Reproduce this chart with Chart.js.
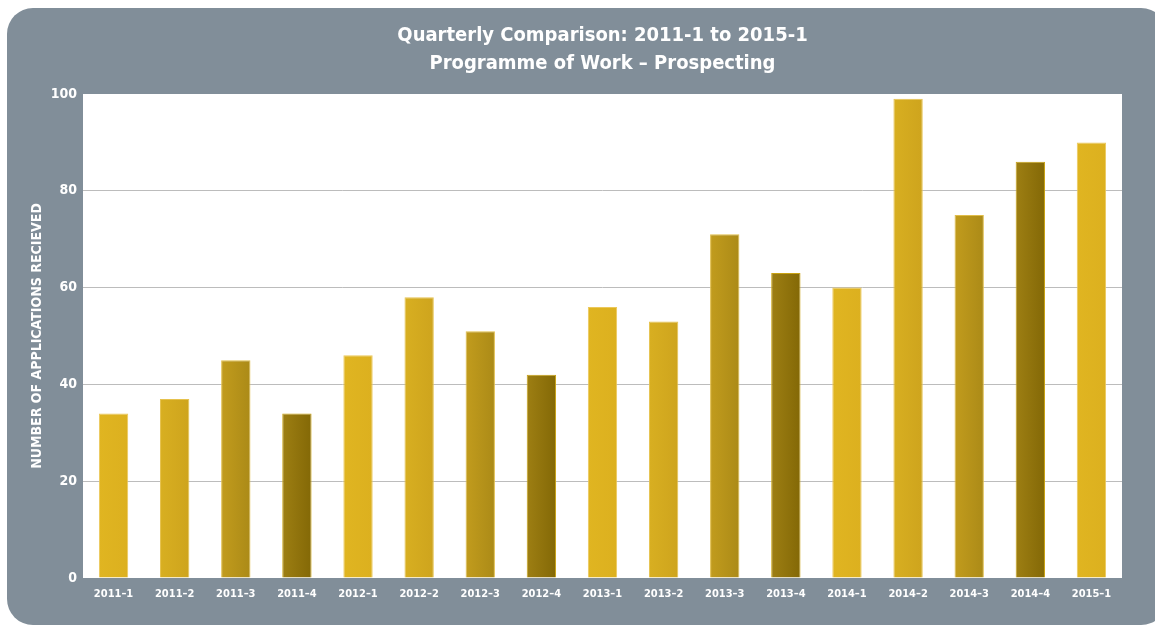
<!DOCTYPE html>
<html>
<head>
<meta charset="utf-8">
<script src="https://cdn.jsdelivr.net/npm/chart.js@4"></script>
<style>
  html, body { margin: 0; padding: 0; background: #fff; }
  #wrap { width: 1155px; height: 626px; }
</style>
</head>
<body>
<div id="wrap"><canvas id="chart" width="1155" height="626"></canvas></div>
<script>
// Data
const quarters = ['2011–1', '2011–2', '2011–3', '2011–4', '2012–1', '2012–2', '2012–3', '2012–4',
  '2013–1', '2013–2', '2013–3', '2013–4', '2014–1', '2014–2', '2014–3', '2014–4', '2015–1'];
const applications = [34, 37, 45, 34, 46, 58, 51, 42, 56, 53, 71, 63, 60, 99, 75, 86, 90];
const yTicks = [0, 20, 40, 60, 80, 100];

// Bar shading per quarter of the year: [left, right, border]
const quarterColors = [
  ['#e0b521', '#dcb01f', '#ecc85a'],
  ['#d8af21', '#cea41d', '#e6c24e'],
  ['#c29c1d', '#ab8a17', '#e0bd4a'],
  ['#9e7f13', '#836806', '#c9a213']
];

const FONT = "'Liberation Sans Narrow', 'DejaVu Sans Condensed', Arial, sans-serif";
const PANEL = '#818e99';

// Gray rounded panel and white plot area
const panelPlugin = {
  id: 'panel',
  beforeDraw(chart) {
    const { ctx, chartArea } = chart;
    ctx.save();
    ctx.fillStyle = PANEL;
    ctx.beginPath();
    ctx.roundRect(7, 8, 1160, 617, 26);
    ctx.fill();
    ctx.fillStyle = '#ffffff';
    ctx.fillRect(chartArea.left, chartArea.top, chartArea.right - chartArea.left, chartArea.bottom - chartArea.top);
    ctx.restore();
  }
};

function barFill(c) {
  const cols = quarterColors[c.dataIndex % 4];
  const chart = c.chart;
  if (!chart.chartArea || !chart.scales.x) return cols[0];
  const x = chart.scales.x.getPixelForValue(c.dataIndex);
  const g = chart.ctx.createLinearGradient(x - 15, 0, x + 15, 0);
  g.addColorStop(0, cols[0]);
  g.addColorStop(1, cols[1]);
  return g;
}

new Chart(document.getElementById('chart'), {
  type: 'bar',
  data: {
    labels: quarters,
    datasets: [{
      data: applications,
      backgroundColor: barFill,
      borderColor: (c) => quarterColors[c.dataIndex % 4][2],
      borderWidth: 1,
      categoryPercentage: 1,
      barPercentage: 0.48
    }]
  },
  options: {
    responsive: false,
    animation: false,
    layout: { padding: { top: 8, right: 33, bottom: 0, left: 0 } },
    plugins: {
      legend: { display: false },
      tooltip: { enabled: false },
      title: {
        display: true,
        fullSize: false,
        text: ['Quarterly Comparison: 2011-1 to 2015-1', 'Programme of Work – Prospecting'],
        color: '#ffffff',
        font: { family: FONT, size: 20, weight: 'bold', lineHeight: 1.4 },
        padding: { top: 14, bottom: 16 }
      }
    },
    scales: {
      x: {
        grid: { display: false, drawTicks: false },
        border: { display: false },
        ticks: {
          color: '#ffffff',
          font: { family: FONT, size: 11, weight: 'bold' },
          padding: 10,
          autoSkip: false,
          maxRotation: 0
        },
        afterFit(scale) { scale.height = 48; }
      },
      y: {
        min: 0,
        max: 100,
        afterBuildTicks(scale) { scale.ticks = yTicks.map(v => ({ value: v })); },
        grid: {
          drawTicks: false,
          color: (c) => (c.tick && (c.tick.value === 0 || c.tick.value === 100)) ? 'rgba(0,0,0,0)' : '#bcbcbc',
          lineWidth: 1
        },
        border: { display: false },
        ticks: {
          color: '#ffffff',
          font: { family: FONT, size: 14, weight: 'bold' },
          padding: 6
        },
        title: {
          display: true,
          text: 'NUMBER OF APPLICATIONS RECIEVED',
          color: '#ffffff',
          font: { family: FONT, size: 14, weight: 'bold', lineHeight: 1.2 },
          padding: { top: 29, bottom: 0 }
        },
        afterFit(scale) { scale.width = 83; }
      }
    }
  },
  plugins: [panelPlugin]
});
</script>
</body>
</html>
